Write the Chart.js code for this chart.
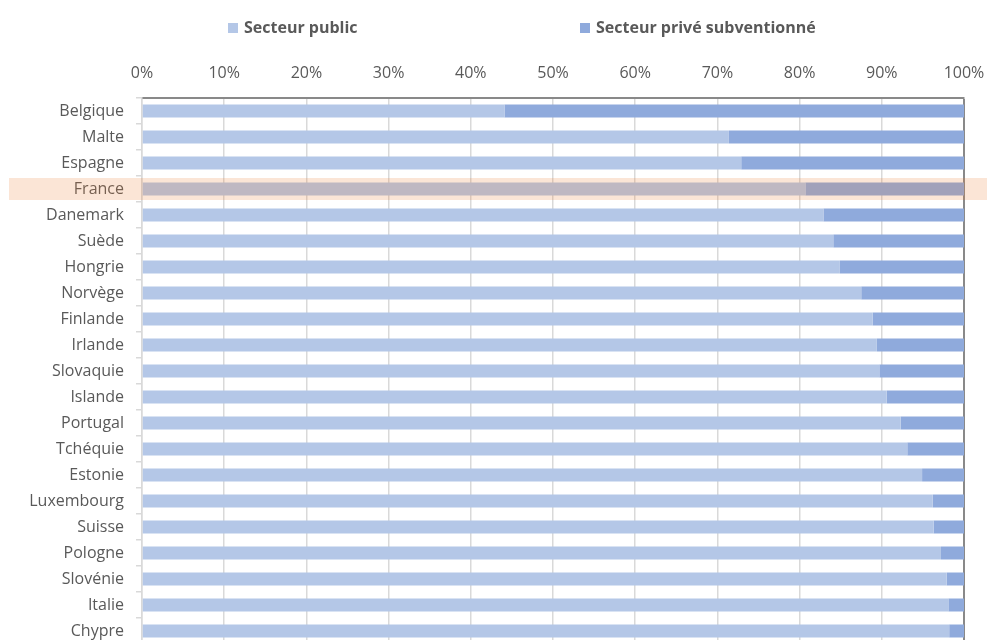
<!DOCTYPE html>
<html lang="fr">
<head>
<meta charset="utf-8">
<title>Part des élèves par secteur</title>
<script src="https://cdn.jsdelivr.net/npm/chart.js@4.4.1/dist/chart.umd.min.js"></script>
<style>
    html, body { margin:0; padding:0; background:#fff; overflow:hidden; }
    #wrap { width:987px; height:645px; }
</style>
</head>
<body>
<div id="wrap"><canvas id="chart-secteurs" width="987" height="645"></canvas></div>
<script>
// Pays, du plus fort au plus faible poids du privé subventionné
const pays = ['Belgique', 'Malte', 'Espagne', 'France', 'Danemark', 'Suède', 'Hongrie', 'Norvège',
    'Finlande', 'Irlande', 'Slovaquie', 'Islande', 'Portugal', 'Tchéquie', 'Estonie', 'Luxembourg',
    'Suisse', 'Pologne', 'Slovénie', 'Italie', 'Chypre'];

// Parts en %
const secteurPublic = [44.1, 71.4, 72.9, 80.7, 82.9, 84.1, 84.9, 87.5, 88.9, 89.4, 89.7,
    90.6, 92.3, 93.1, 94.9, 96.2, 96.3, 97.2, 97.9, 98.1, 98.2];
const secteurPrive = [55.9, 28.6, 27.1, 19.3, 17.1, 15.9, 15.1, 12.5, 11.1, 10.6, 10.3,
    9.4, 7.7, 6.9, 5.1, 3.8, 3.7, 2.8, 2.1, 1.9, 1.8];

const paysMisEnAvant = 'France';

const FONT = "'Open Sans', 'Liberation Sans', sans-serif";
const TEXT = '#595959';

// Bandeau orangé sur la ligne de la France
const highlightPlugin = {
    id: 'highlight',
    afterDatasetsDraw(chart) {
        const idx = pays.indexOf(paysMisEnAvant);
        if (idx < 0) return;
        const y = chart.scales.y.getPixelForValue(idx);
        const ctx = chart.ctx;
        ctx.save();
        ctx.fillStyle = 'rgba(237, 125, 49, 0.2)';
        ctx.fillRect(9, y - 11, chart.width - 9, 22);
        ctx.restore();
    }
};

// Légende en haut, deux entrées espacées
const legendPlugin = {
    id: 'legendTop',
    afterDraw(chart) {
        const ctx = chart.ctx;
        const positions = [228, 580];
        ctx.save();
        ctx.font = `bold 16px ${FONT}`;
        ctx.textBaseline = 'middle';
        ctx.textAlign = 'left';
        chart.data.datasets.forEach((ds, i) => {
            const x = positions[i];
            ctx.fillStyle = ds.backgroundColor;
            ctx.fillRect(x, 23, 10, 10);
            ctx.fillStyle = TEXT;
            ctx.fillText(ds.label, x + 16, 28);
        });
        ctx.restore();
    }
};

new Chart(document.getElementById('chart-secteurs').getContext('2d'), {
    type: 'bar',
    data: {
        labels: pays,
        datasets: [
            {
                label: 'Secteur public',
                data: secteurPublic,
                backgroundColor: '#b4c7e7',
                barPercentage: 0.5,
                categoryPercentage: 1
            },
            {
                label: 'Secteur privé subventionné',
                data: secteurPrive,
                backgroundColor: '#8faadc',
                barPercentage: 0.5,
                categoryPercentage: 1
            }
        ]
    },
    options: {
        indexAxis: 'y',
        responsive: false,
        animation: false,
        devicePixelRatio: 1,
        layout: { padding: { top: 0, right: 23, bottom: 1, left: 0 } },
        plugins: {
            legend: { display: false },
            tooltip: { enabled: false }
        },
        scales: {
            x: {
                position: 'top',
                stacked: true,
                min: 0,
                max: 100,
                afterFit: (scale) => {
                    scale.height = 98;
                    scale.paddingLeft = 0;
                    scale.paddingRight = 0;
                },
                border: { color: '#898989', width: 2 },
                grid: {
                    drawTicks: false,
                    color: (c) => c.tick && c.tick.value === 100 ? '#898989' : '#d9d9d9',
                    lineWidth: (c) => c.tick && c.tick.value === 100 ? 2 : 1.5
                },
                ticks: {
                    stepSize: 10,
                    padding: 15,
                    color: TEXT,
                    font: { family: FONT, size: 16 },
                    callback: (v) => v + '%'
                }
            },
            y: {
                stacked: true,
                afterFit: (scale) => {
                    scale.width = 142;
                    scale.paddingTop = 0;
                    scale.paddingBottom = 0;
                },
                border: { color: '#d9d9d9', width: 1.5 },
                grid: {
                    drawOnChartArea: false,
                    tickLength: 6,
                    color: '#d9d9d9',
                    lineWidth: 1.5
                },
                ticks: {
                    padding: 12,
                    color: TEXT,
                    font: { family: FONT, size: 16 }
                }
            }
        }
    },
    plugins: [highlightPlugin, legendPlugin]
});
</script>
</body>
</html>
